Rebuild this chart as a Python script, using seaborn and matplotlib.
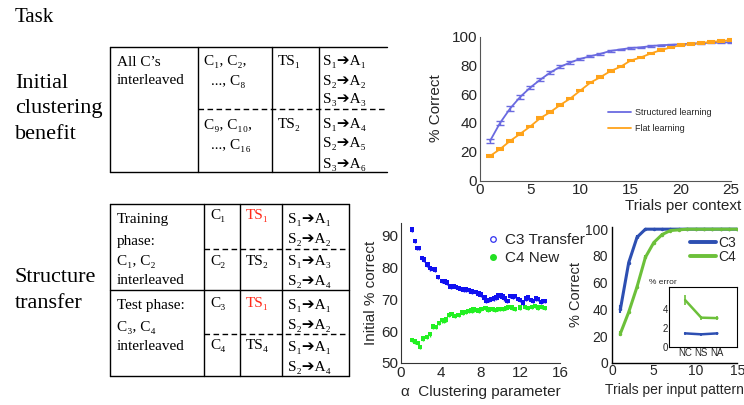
import numpy as np
import pandas as pd
import matplotlib
matplotlib.use("Agg")
import matplotlib.pyplot as plt
import seaborn as sns
from matplotlib.lines import Line2D

# ---------------- data ----------------
trials = list(range(1, 26))
structured = [27.5, 40, 50, 58, 64.5, 70, 75, 79, 82, 84.5, 86.3, 88, 90, 91, 92,
              92.5, 93.3, 94, 94.2, 94.7, 95, 95.4, 95.6, 95.8, 96]
structured_err = [1.3, 1.4, 1.4, 1.3, 1.2, 1.1, 1.0, 0.9, 0.9, 0.8, 0.7, 0.7, 0.6,
                  0.6, 0.5, 0.5, 0.5, 0.4, 0.4, 0.4, 0.4, 0.3, 0.3, 0.3, 0.3]
flat = [17, 21.8, 27.5, 32.4, 37.5, 43.3, 47.5, 52.5, 57, 62.5, 68, 71.8, 76, 79,
        83.3, 85.4, 88.2, 90.5, 92.4, 94, 94.7, 95.4, 96.3, 96.8, 97.5]
flat_err = [0.5] * 25

alpha_c3 = [1.1, 1.4, 1.6, 1.8, 2.1, 2.3, 2.65, 2.9, 3.2, 3.4, 3.7, 4.1, 4.4, 4.6,
            5.0, 5.3, 5.5, 5.8, 6.0, 6.3, 6.5, 6.8, 7.1, 7.5, 7.8, 8.0, 8.4, 8.6,
            8.9, 9.1, 9.4, 9.6, 9.8, 10.0, 10.2, 10.4, 10.7, 11.0, 11.3, 11.5,
            11.8, 12.0, 12.3, 12.6, 12.8, 13.1, 13.3, 13.6, 13.8, 14.1, 14.3, 14.5]
c3 = [91.9, 88.3, 86.1, 86.0, 83.0, 82.5, 80.9, 79.7, 79.5, 79.3, 77.0, 75.8, 75.5,
      75.2, 74.0, 74.2, 73.8, 73.5, 73.2, 73.0, 73.0, 72.8, 72.4, 72.3, 71.8, 71.5,
      70.5, 69.5, 69.8, 70.0, 70.3, 70.6, 71.2, 71.4, 70.8, 70.3, 69.5, 71.0, 70.8,
      71.0, 70.0, 69.8, 69.0, 70.2, 70.5, 69.8, 69.5, 70.2, 70.0, 69.2, 69.5, 69.5]
alpha_c4 = [1.1, 1.4, 1.7, 1.9, 2.2, 2.6, 2.9, 3.2, 3.5, 3.8, 4.1, 4.3, 4.5, 4.8,
            5.1, 5.4, 5.8, 6.2, 6.5, 6.8, 7.1, 7.3, 7.8, 8.1, 8.5, 8.8, 9.2, 9.5,
            9.8, 10.0, 10.3, 10.6, 10.8, 11.2, 11.5, 12.0, 12.5, 12.8, 13.2, 13.5,
            13.8, 14.2, 14.5]
c4 = [57.2, 56.8, 56.2, 55.1, 57.7, 58.2, 59.0, 61.5, 61.3, 62.6, 63.4, 63.2, 63.7,
      65.0, 65.3, 64.8, 65.0, 65.8, 66.0, 66.3, 66.5, 66.8, 66.5, 67.0, 67.2, 66.8,
      66.9, 66.7, 66.9, 67.0, 66.9, 67.3, 67.6, 67.4, 66.9, 67.4, 67.6, 67.2, 67.6,
      67.8, 67.4, 67.5, 67.2]

pattern_trials = list(range(1, 16))
c3_curve = [40, 75, 94, 100, 100, 100, 100, 100, 100, 100, 100, 100, 100, 100, 100]
c3_curve_err = [3, 2, 1.5, 0, 0, 0, 0, 0, 0, 0, 0, 0, 0, 0, 0]
c4_curve = [22, 38, 57, 79, 90, 96, 99, 99.5, 100, 100, 100, 100, 100, 100, 100]
c4_curve_err = [2, 1.5, 1.5, 1.5, 1.2, 1, 0.5, 0.3, 0, 0, 0, 0, 0, 0, 0]

conditions = ["NC", "NS", "NA"]
inset_c3 = [1.4, 1.3, 1.4]
inset_c3_err = [0.15, 0.15, 0.15]
inset_c4 = [4.9, 3.05, 3.0]
inset_c4_err = [0.5, 0.2, 0.2]

# ---------------- style ----------------
sns.set_theme(style="white")
plt.rcParams["font.family"] = ["Liberation Sans", "DejaVu Sans"]
plt.rcParams["xtick.direction"] = "in"
plt.rcParams["ytick.direction"] = "in"
plt.rcParams["xtick.major.size"] = 2.5
plt.rcParams["ytick.major.size"] = 2.5
plt.rcParams["xtick.major.pad"] = 2
plt.rcParams["ytick.major.pad"] = 2

W, H = 744, 405
fig = plt.figure(figsize=(W / 100, H / 100), dpi=100)


def rect(l, t, r, b):
    return [l / W, 1 - b / H, (r - l) / W, (b - t) / H]


def fx(x):
    return x / W


def fy(y):
    return 1 - y / H


SERIF = ["Liberation Serif", "DejaVu Serif", "DejaVu Sans"]


def ftext(x, y, s, size=11, color="black", **kw):
    fig.text(fx(x), fy(y), s, fontsize=size, color=color, family=SERIF,
             va="center", ha="left", **kw)


def fline(x0, y0, x1, y1, ls="-", lw=1.0):
    fig.add_artist(Line2D([fx(x0), fx(x1)], [fy(y0), fy(y1)], transform=fig.transFigure,
                          color="black", lw=lw, ls=ls, dashes=(4, 2.5) if ls == "--" else (None, None)))


# ---------------- left text / tables ----------------
ftext(15, 18, "Task", size=15)
ftext(15, 83, "Initial", size=16)
ftext(15, 109, "clustering", size=16)
ftext(15, 135, "benefit", size=16)
ftext(15, 277, "Structure", size=16)
ftext(15, 303, "transfer", size=16)

# top table
fline(110, 47, 387, 47)
fline(110, 172, 387, 172)
fline(110, 47, 110, 172)
for xc in (198, 272, 319):
    fline(xc, 47, xc, 172)
fline(198, 109, 387, 109, ls="--")
ftext(117, 62, "All C’s", size=11)
ftext(117, 81, "interleaved", size=11)
ftext(204, 62, "C₁, C₂,", size=11)
ftext(211, 81, "..., C₈", size=11)
ftext(278, 61, "TS₁", size=11)
ftext(323, 62, "S₁➔A₁", size=11)
ftext(323, 81, "S₂➔A₂", size=11)
ftext(323, 100, "S₃➔A₃", size=11)
ftext(204, 125, "C₉, C₁₀,", size=11)
ftext(211, 145, "..., C₁₆", size=11)
ftext(278, 124, "TS₂", size=11)
ftext(323, 124, "S₁➔A₄", size=11)
ftext(323, 144, "S₂➔A₅", size=11)
ftext(323, 164, "S₃➔A₆", size=11)

# bottom table
fline(110, 204, 349, 204)
fline(110, 376, 349, 376)
fline(110, 290, 349, 290)
fline(110, 204, 110, 376)
for xc in (204, 240, 282, 349):
    fline(xc, 204, xc, 376)
fline(204, 249, 349, 249, ls="--")
fline(204, 334, 349, 334, ls="--")
ftext(117, 220, "Training", size=11)
ftext(117, 241, "phase:", size=11)
ftext(117, 262, "C₁, C₂", size=11)
ftext(117, 281, "interleaved", size=11)
ftext(117, 306, "Test phase:", size=11)
ftext(117, 327, "C₃, C₄", size=11)
ftext(117, 346, "interleaved", size=11)
ftext(210, 216, "C₁", size=11)
ftext(210, 262, "C₂", size=11)
ftext(210, 303, "C₃", size=11)
ftext(210, 346, "C₄", size=11)
ftext(246, 216, "TS₁", size=11, color="#ff2a1a")
ftext(246, 262, "TS₂", size=11)
ftext(246, 303, "TS₁", size=11, color="#ff2a1a")
ftext(246, 346, "TS₄", size=11)
ftext(288, 220, "S₁➔A₁", size=11)
ftext(288, 240, "S₂➔A₂", size=11)
ftext(288, 262, "S₁➔A₃", size=11)
ftext(288, 282, "S₂➔A₄", size=11)
ftext(288, 305, "S₁➔A₁", size=11)
ftext(288, 326, "S₂➔A₂", size=11)
ftext(288, 347, "S₁➔A₁", size=11)
ftext(288, 368, "S₂➔A₄", size=11)

# ---------------- top chart ----------------
ax1 = fig.add_axes(rect(480, 36.5, 731, 180.5))
df1 = pd.DataFrame({"trial": trials * 2, "pc": structured + flat,
                    "kind": ["Structured learning"] * 25 + ["Flat learning"] * 25})
pal1 = {"Structured learning": "#6a6ae0", "Flat learning": "#ffa31a"}
sns.lineplot(data=df1, x="trial", y="pc", hue="kind", palette=pal1, ax=ax1, lw=1.3)
ax1.errorbar(trials, structured, yerr=structured_err, fmt="none", ecolor="#6a6ae0",
             elinewidth=1, capsize=3, capthick=1)
ax1.errorbar(trials, flat, yerr=flat_err, fmt="none", ecolor="#ffa31a",
             elinewidth=1.5, capsize=3, capthick=1.5)
ax1.set_xlim(0, 25)
ax1.set_ylim(0, 100)
ax1.set_xticks([0, 5, 10, 15, 20, 25])
ax1.set_yticks([0, 20, 40, 60, 80, 100])
ax1.tick_params(labelsize=11, length=2, color="#666666")
for s in ("top", "right"):
    ax1.spines[s].set_visible(False)
for s in ("left", "bottom"):
    ax1.spines[s].set_color("#555555")
    ax1.spines[s].set_linewidth(0.8)
ax1.set_ylabel("% Correct", fontsize=11, labelpad=6)
ax1.set_xlabel("Trials per context", fontsize=11)
ax1.xaxis.set_label_coords(0.81, -0.125)
ax1.legend(loc="center left", bbox_to_anchor=(0.51, 0.415), frameon=False,
           fontsize=6.5, handlelength=2.6, handletextpad=0.4, labelspacing=0.75,
           borderpad=0, borderaxespad=0)

# ---------------- scatter chart ----------------
ax2 = fig.add_axes(rect(401, 222.7, 560, 363))
df_c3 = pd.DataFrame({"alpha": alpha_c3, "val": c3})
df_c4 = pd.DataFrame({"alpha": alpha_c4, "val": c4})
ax2.errorbar(alpha_c3, c3, yerr=0.7, fmt="none", ecolor="#1010f0", elinewidth=1)
ax2.errorbar(alpha_c4, c4, yerr=0.7, fmt="none", ecolor="#22f022", elinewidth=1)
sns.scatterplot(data=df_c3, x="alpha", y="val", marker="s", s=10, color="#1010f0",
                edgecolor="none", ax=ax2)
sns.scatterplot(data=df_c4, x="alpha", y="val", marker="s", s=10, color="#22f022",
                edgecolor="none", ax=ax2)
ax2.set_xlim(0, 16)
ax2.set_ylim(50, 94)
ax2.set_xticks([0, 4, 8, 12, 16])
ax2.set_xticks([2, 6, 10, 14], minor=True)
ax2.set_yticks([50, 60, 70, 80, 90])
ax2.set_yticks([55, 65, 75, 85], minor=True)
ax2.tick_params(which="both", direction="in", length=3, labelsize=11)
ax2.tick_params(which="minor", length=2)
for s in ("top", "right"):
    ax2.spines[s].set_visible(False)
for s in ("left", "bottom"):
    ax2.spines[s].set_color("#333333")
    ax2.spines[s].set_linewidth(0.8)
ax2.set_xlabel("α  Clustering parameter", fontsize=11, labelpad=4)
ax2.set_ylabel("Initial % correct", fontsize=11, labelpad=2)
h2 = [Line2D([], [], ls="none", marker="o", mfc="none", mec="#3030f0", ms=4, mew=0.9),
      Line2D([], [], ls="none", marker="o", mfc="#22e022", mec="#22e022", ms=4)]
ax2.legend(h2, ["C3 Transfer", "C4 New"], loc="upper left", bbox_to_anchor=(0.465, 1.0),
           frameon=False, fontsize=11, handletextpad=0.3, handlelength=1,
           labelspacing=0.25, borderpad=0.2)

# ---------------- right chart ----------------
ax3 = fig.add_axes(rect(612, 226.5, 737.3, 363))
df3 = pd.DataFrame({"t": pattern_trials * 2, "pc": c3_curve + c4_curve,
                    "ctx": ["C3"] * 15 + ["C4"] * 15})
pal3 = {"C3": "#2d4fb2", "C4": "#6cc03a"}
sns.lineplot(data=df3, x="t", y="pc", hue="ctx", palette=pal3, lw=2.2, ax=ax3,
             marker="o", markersize=2.5, markeredgewidth=0)
ax3.errorbar(pattern_trials, c3_curve, yerr=c3_curve_err, fmt="none", ecolor="#2d4fb2",
             elinewidth=1.5)
ax3.errorbar(pattern_trials, c4_curve, yerr=c4_curve_err, fmt="none", ecolor="#6cc03a",
             elinewidth=1.5)
ax3.set_xlim(0, 15)
ax3.set_ylim(0, 102)
ax3.set_xticks([0, 5, 10, 15])
ax3.set_yticks([0, 20, 40, 60, 80, 100])
ax3.tick_params(direction="in", length=2, labelsize=10, pad=1)
ax3.tick_params(axis="y", pad=3)
for s in ("top", "right"):
    ax3.spines[s].set_visible(False)
for s in ("left", "bottom"):
    ax3.spines[s].set_color("black")
    ax3.spines[s].set_linewidth(1.0)
ax3.set_xlabel("Trials per input pattern", fontsize=10, labelpad=3)
ax3.set_ylabel("% Correct", fontsize=10.5, labelpad=1)
leg3 = ax3.legend(loc="upper right", bbox_to_anchor=(1.06, 0.99), frameon=False,
                  fontsize=10, handlelength=1.9, handletextpad=0.2,
                  labelspacing=-0.02, borderpad=0.1)
for ln in leg3.get_lines():
    ln.set_linewidth(2.8)
    ln.set_marker("")

# inset
ax4 = fig.add_axes(rect(669.3, 286.7, 736.7, 346.7))
dfi = pd.DataFrame({"cond": [1, 2, 3] * 2, "err": inset_c3 + inset_c4,
                    "ctx": ["C3"] * 3 + ["C4"] * 3})
sns.lineplot(data=dfi, x="cond", y="err", hue="ctx", palette=pal3, lw=1.8, ax=ax4,
             legend=False)
ax4.errorbar([1, 2, 3], inset_c3, yerr=inset_c3_err, fmt="none", ecolor="#2d4fb2",
             elinewidth=1.2, capsize=0)
ax4.errorbar([1, 2, 3], inset_c4, yerr=inset_c4_err, fmt="none", ecolor="#6cc03a",
             elinewidth=1.2, capsize=0)
ax4.set_xlim(0.02, 4.2)
ax4.set_ylim(0, 6.3)
ax4.set_xticks([1, 2, 3])
ax4.set_xticklabels(conditions)
ax4.set_yticks([0, 2, 4])
ax4.tick_params(direction="in", length=1.5, labelsize=7, pad=1)
for s in ax4.spines.values():
    s.set_color("black")
    s.set_linewidth(0.8)
ax4.set_xlabel("")
ax4.set_ylabel("")
ax4.text(-0.3, 1.02, "% error", transform=ax4.transAxes, fontsize=6, ha="left",
         va="bottom")

fig.savefig("out.png", dpi=100)
